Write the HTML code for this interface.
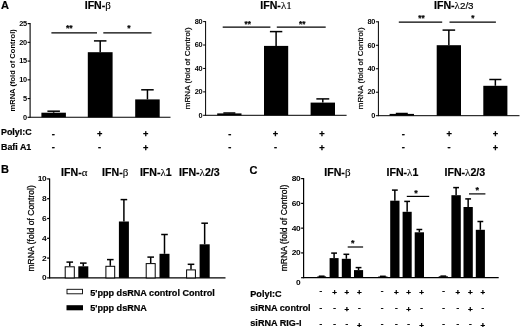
<!DOCTYPE html>
<html><head><meta charset="utf-8"><title>Figure</title>
<style>
html,body{margin:0;padding:0;background:#fff;}
body{width:520px;height:327px;overflow:hidden;}
svg{display:block;}
text{fill:#000;}
</style></head><body>
<svg width="520" height="327" viewBox="0 0 520 327">
<rect x="0" y="0" width="520" height="327" fill="#fff"/>
<text x="0.90" y="8.80" font-family='"Liberation Sans", sans-serif' font-size="11" font-weight="bold" text-anchor="start"  stroke="#000" stroke-width="0.2">A</text>
<text x="84.70" y="8.60" font-family='"Liberation Sans", sans-serif' font-size="10.6" font-weight="bold" text-anchor="start"  stroke="#000" stroke-width="0.2">IFN-<tspan font-family='"Liberation Serif", serif' font-weight="normal" stroke-width="0.12" font-size="11">β</tspan></text>
<line x1="30.10" y1="23.10" x2="30.10" y2="117.80" stroke="#000" stroke-width="1.1"/>
<line x1="27.60" y1="23.60" x2="30.10" y2="23.60" stroke="#000" stroke-width="1.1"/>
<text transform="translate(26.80,25.84) scale(1.12,1)" font-family='"Liberation Sans", sans-serif' font-size="6.6" font-weight="bold" text-anchor="end" letter-spacing="-0.3">25</text>
<line x1="27.60" y1="42.34" x2="30.10" y2="42.34" stroke="#000" stroke-width="1.1"/>
<text transform="translate(26.80,44.58) scale(1.12,1)" font-family='"Liberation Sans", sans-serif' font-size="6.6" font-weight="bold" text-anchor="end" letter-spacing="-0.3">20</text>
<line x1="27.60" y1="61.08" x2="30.10" y2="61.08" stroke="#000" stroke-width="1.1"/>
<text transform="translate(26.80,63.32) scale(1.12,1)" font-family='"Liberation Sans", sans-serif' font-size="6.6" font-weight="bold" text-anchor="end" letter-spacing="-0.3">15</text>
<line x1="27.60" y1="79.82" x2="30.10" y2="79.82" stroke="#000" stroke-width="1.1"/>
<text transform="translate(26.80,82.06) scale(1.12,1)" font-family='"Liberation Sans", sans-serif' font-size="6.6" font-weight="bold" text-anchor="end" letter-spacing="-0.3">10</text>
<line x1="27.60" y1="98.56" x2="30.10" y2="98.56" stroke="#000" stroke-width="1.1"/>
<text transform="translate(26.80,100.80) scale(1.12,1)" font-family='"Liberation Sans", sans-serif' font-size="6.6" font-weight="bold" text-anchor="end" letter-spacing="-0.3">5</text>
<line x1="27.60" y1="117.30" x2="30.10" y2="117.30" stroke="#000" stroke-width="1.1"/>
<text transform="translate(26.80,119.54) scale(1.12,1)" font-family='"Liberation Sans", sans-serif' font-size="6.6" font-weight="bold" text-anchor="end" letter-spacing="-0.3">0</text>
<text transform="translate(14.60,111.50) rotate(-90)" font-family='"Liberation Sans", sans-serif' font-size="7.5" font-weight="bold" textLength="82.3" lengthAdjust="spacing">mRNA (fold of Control)</text>
<line x1="30.10" y1="117.30" x2="170.50" y2="117.30" stroke="#000" stroke-width="1.1"/>
<rect x="41.40" y="112.70" width="24.50" height="4.60" fill="#000"/>
<line x1="53.65" y1="111.20" x2="53.65" y2="112.70" stroke="#000" stroke-width="1.5"/>
<line x1="47.40" y1="111.20" x2="59.90" y2="111.20" stroke="#000" stroke-width="1.5"/>
<rect x="87.80" y="52.20" width="24.80" height="65.10" fill="#000"/>
<line x1="100.20" y1="40.90" x2="100.20" y2="52.20" stroke="#000" stroke-width="1.5"/>
<line x1="93.95" y1="40.90" x2="106.45" y2="40.90" stroke="#000" stroke-width="1.5"/>
<rect x="135.20" y="99.40" width="24.50" height="17.90" fill="#000"/>
<line x1="147.45" y1="89.80" x2="147.45" y2="99.40" stroke="#000" stroke-width="1.5"/>
<line x1="141.20" y1="89.80" x2="153.70" y2="89.80" stroke="#000" stroke-width="1.5"/>
<line x1="51.40" y1="32.90" x2="97.00" y2="32.90" stroke="#000" stroke-width="1.2"/>
<line x1="103.30" y1="32.90" x2="151.50" y2="32.90" stroke="#000" stroke-width="1.2"/>
<text x="69.30" y="31.34" font-family='"Liberation Sans", sans-serif' font-size="8.6" font-weight="bold" text-anchor="middle"  stroke="#000" stroke-width="0.2">**</text>
<text x="128.90" y="31.34" font-family='"Liberation Sans", sans-serif' font-size="8.6" font-weight="bold" text-anchor="middle"  stroke="#000" stroke-width="0.2">*</text>
<text x="1.00" y="135.00" font-family='"Liberation Sans", sans-serif' font-size="8.9" font-weight="bold" text-anchor="start"  stroke="#000" stroke-width="0.2">PolyI:C</text>
<text x="1.00" y="150.20" font-family='"Liberation Sans", sans-serif' font-size="8.9" font-weight="bold" text-anchor="start"  stroke="#000" stroke-width="0.2">Bafi A1</text>
<text x="53.40" y="136.72" font-family='"Liberation Sans", sans-serif' font-size="9.2" font-weight="bold" text-anchor="middle" stroke="#000" stroke-width="0.3">-</text>
<text x="53.40" y="150.22" font-family='"Liberation Sans", sans-serif' font-size="9.2" font-weight="bold" text-anchor="middle" stroke="#000" stroke-width="0.3">-</text>
<text x="99.60" y="137.41" font-family='"Liberation Sans", sans-serif' font-size="9.2" font-weight="bold" text-anchor="middle" stroke="#000" stroke-width="0.3">+</text>
<text x="99.60" y="150.22" font-family='"Liberation Sans", sans-serif' font-size="9.2" font-weight="bold" text-anchor="middle" stroke="#000" stroke-width="0.3">-</text>
<text x="145.70" y="137.41" font-family='"Liberation Sans", sans-serif' font-size="9.2" font-weight="bold" text-anchor="middle" stroke="#000" stroke-width="0.3">+</text>
<text x="145.70" y="150.81" font-family='"Liberation Sans", sans-serif' font-size="9.2" font-weight="bold" text-anchor="middle" stroke="#000" stroke-width="0.3">+</text>
<text x="260.30" y="8.60" font-family='"Liberation Sans", sans-serif' font-size="10.6" font-weight="bold" text-anchor="start"  stroke="#000" stroke-width="0.2">IFN-<tspan font-family='"Liberation Serif", serif' font-weight="normal" stroke-width="0.12" font-size="11">λ1</tspan></text>
<line x1="205.60" y1="21.10" x2="205.60" y2="115.80" stroke="#000" stroke-width="1.0"/>
<line x1="203.10" y1="21.60" x2="205.60" y2="21.60" stroke="#000" stroke-width="1.0"/>
<text transform="translate(202.30,23.84) scale(1.12,1)" font-family='"Liberation Sans", sans-serif' font-size="6.6" font-weight="bold" text-anchor="end" letter-spacing="-0.3">80</text>
<line x1="203.10" y1="45.02" x2="205.60" y2="45.02" stroke="#000" stroke-width="1.0"/>
<text transform="translate(202.30,47.27) scale(1.12,1)" font-family='"Liberation Sans", sans-serif' font-size="6.6" font-weight="bold" text-anchor="end" letter-spacing="-0.3">60</text>
<line x1="203.10" y1="68.45" x2="205.60" y2="68.45" stroke="#000" stroke-width="1.0"/>
<text transform="translate(202.30,70.69) scale(1.12,1)" font-family='"Liberation Sans", sans-serif' font-size="6.6" font-weight="bold" text-anchor="end" letter-spacing="-0.3">40</text>
<line x1="203.10" y1="91.88" x2="205.60" y2="91.88" stroke="#000" stroke-width="1.0"/>
<text transform="translate(202.30,94.12) scale(1.12,1)" font-family='"Liberation Sans", sans-serif' font-size="6.6" font-weight="bold" text-anchor="end" letter-spacing="-0.3">20</text>
<line x1="203.10" y1="115.30" x2="205.60" y2="115.30" stroke="#000" stroke-width="1.0"/>
<text transform="translate(202.30,117.54) scale(1.12,1)" font-family='"Liberation Sans", sans-serif' font-size="6.6" font-weight="bold" text-anchor="end" letter-spacing="-0.3">0</text>
<text transform="translate(190.30,109.20) rotate(-90)" font-family='"Liberation Sans", sans-serif' font-size="8.0" font-weight="normal" textLength="81.8" lengthAdjust="spacing" stroke="#000" stroke-width="0.2">mRNA (fold of Control)</text>
<line x1="205.60" y1="115.30" x2="346.60" y2="115.30" stroke="#000" stroke-width="1.0"/>
<rect x="217.20" y="113.40" width="24.30" height="1.90" fill="#000"/>
<line x1="229.35" y1="113.00" x2="229.35" y2="113.40" stroke="#000" stroke-width="1.5"/>
<line x1="223.35" y1="113.00" x2="235.35" y2="113.00" stroke="#000" stroke-width="1.5"/>
<rect x="264.00" y="45.90" width="24.20" height="69.40" fill="#000"/>
<line x1="276.10" y1="31.60" x2="276.10" y2="45.90" stroke="#000" stroke-width="1.5"/>
<line x1="269.90" y1="31.60" x2="282.30" y2="31.60" stroke="#000" stroke-width="1.5"/>
<rect x="310.60" y="102.60" width="24.40" height="12.70" fill="#000"/>
<line x1="322.80" y1="98.90" x2="322.80" y2="102.60" stroke="#000" stroke-width="1.5"/>
<line x1="316.35" y1="98.90" x2="329.25" y2="98.90" stroke="#000" stroke-width="1.5"/>
<line x1="222.70" y1="27.10" x2="270.40" y2="27.10" stroke="#000" stroke-width="1.1"/>
<line x1="276.80" y1="27.10" x2="325.70" y2="27.10" stroke="#000" stroke-width="1.1"/>
<text x="247.80" y="26.68" font-family='"Liberation Sans", sans-serif' font-size="8.2" font-weight="bold" text-anchor="middle"  stroke="#000" stroke-width="0.2">**</text>
<text x="302.20" y="26.68" font-family='"Liberation Sans", sans-serif' font-size="8.2" font-weight="bold" text-anchor="middle"  stroke="#000" stroke-width="0.2">**</text>
<text x="229.70" y="136.72" font-family='"Liberation Sans", sans-serif' font-size="9.2" font-weight="bold" text-anchor="middle" stroke="#000" stroke-width="0.3">-</text>
<text x="229.70" y="150.22" font-family='"Liberation Sans", sans-serif' font-size="9.2" font-weight="bold" text-anchor="middle" stroke="#000" stroke-width="0.3">-</text>
<text x="275.50" y="137.41" font-family='"Liberation Sans", sans-serif' font-size="9.2" font-weight="bold" text-anchor="middle" stroke="#000" stroke-width="0.3">+</text>
<text x="275.50" y="150.22" font-family='"Liberation Sans", sans-serif' font-size="9.2" font-weight="bold" text-anchor="middle" stroke="#000" stroke-width="0.3">-</text>
<text x="322.00" y="137.41" font-family='"Liberation Sans", sans-serif' font-size="9.2" font-weight="bold" text-anchor="middle" stroke="#000" stroke-width="0.3">+</text>
<text x="322.00" y="150.81" font-family='"Liberation Sans", sans-serif' font-size="9.2" font-weight="bold" text-anchor="middle" stroke="#000" stroke-width="0.3">+</text>
<text x="434.00" y="8.60" font-family='"Liberation Sans", sans-serif' font-size="10.6" font-weight="bold" text-anchor="start"  stroke="#000" stroke-width="0.2">IFN-<tspan font-family='"Liberation Serif", serif' font-weight="normal" stroke-width="0.12" font-size="11">λ</tspan><tspan font-weight="normal" font-size="9.8">2/3</tspan></text>
<line x1="378.40" y1="21.30" x2="378.40" y2="116.20" stroke="#000" stroke-width="1.0"/>
<line x1="375.90" y1="21.80" x2="378.40" y2="21.80" stroke="#000" stroke-width="1.0"/>
<text transform="translate(375.10,24.04) scale(1.12,1)" font-family='"Liberation Sans", sans-serif' font-size="6.6" font-weight="bold" text-anchor="end" letter-spacing="-0.3">80</text>
<line x1="375.90" y1="45.28" x2="378.40" y2="45.28" stroke="#000" stroke-width="1.0"/>
<text transform="translate(375.10,47.52) scale(1.12,1)" font-family='"Liberation Sans", sans-serif' font-size="6.6" font-weight="bold" text-anchor="end" letter-spacing="-0.3">60</text>
<line x1="375.90" y1="68.75" x2="378.40" y2="68.75" stroke="#000" stroke-width="1.0"/>
<text transform="translate(375.10,70.99) scale(1.12,1)" font-family='"Liberation Sans", sans-serif' font-size="6.6" font-weight="bold" text-anchor="end" letter-spacing="-0.3">40</text>
<line x1="375.90" y1="92.23" x2="378.40" y2="92.23" stroke="#000" stroke-width="1.0"/>
<text transform="translate(375.10,94.47) scale(1.12,1)" font-family='"Liberation Sans", sans-serif' font-size="6.6" font-weight="bold" text-anchor="end" letter-spacing="-0.3">20</text>
<line x1="375.90" y1="115.70" x2="378.40" y2="115.70" stroke="#000" stroke-width="1.0"/>
<text transform="translate(375.10,117.94) scale(1.12,1)" font-family='"Liberation Sans", sans-serif' font-size="6.6" font-weight="bold" text-anchor="end" letter-spacing="-0.3">0</text>
<text transform="translate(362.70,109.20) rotate(-90)" font-family='"Liberation Sans", sans-serif' font-size="8.0" font-weight="normal" textLength="81.8" lengthAdjust="spacing" stroke="#000" stroke-width="0.2">mRNA (fold of Control)</text>
<line x1="378.40" y1="115.70" x2="519.50" y2="115.70" stroke="#000" stroke-width="1.0"/>
<rect x="389.60" y="113.90" width="24.40" height="1.80" fill="#000"/>
<line x1="401.80" y1="113.50" x2="401.80" y2="113.90" stroke="#000" stroke-width="1.5"/>
<line x1="395.80" y1="113.50" x2="407.80" y2="113.50" stroke="#000" stroke-width="1.5"/>
<rect x="436.70" y="45.20" width="24.30" height="70.50" fill="#000"/>
<line x1="448.85" y1="30.10" x2="448.85" y2="45.20" stroke="#000" stroke-width="1.5"/>
<line x1="442.55" y1="30.10" x2="455.15" y2="30.10" stroke="#000" stroke-width="1.5"/>
<rect x="483.30" y="85.80" width="24.10" height="29.90" fill="#000"/>
<line x1="495.35" y1="79.50" x2="495.35" y2="85.80" stroke="#000" stroke-width="1.5"/>
<line x1="489.30" y1="79.50" x2="501.40" y2="79.50" stroke="#000" stroke-width="1.5"/>
<line x1="398.80" y1="22.10" x2="442.20" y2="22.10" stroke="#000" stroke-width="1.2"/>
<line x1="449.50" y1="22.10" x2="495.90" y2="22.10" stroke="#000" stroke-width="1.2"/>
<text x="421.50" y="21.18" font-family='"Liberation Sans", sans-serif' font-size="8.2" font-weight="bold" text-anchor="middle"  stroke="#000" stroke-width="0.2">**</text>
<text x="472.80" y="21.18" font-family='"Liberation Sans", sans-serif' font-size="8.2" font-weight="bold" text-anchor="middle"  stroke="#000" stroke-width="0.2">*</text>
<text x="403.20" y="136.72" font-family='"Liberation Sans", sans-serif' font-size="9.2" font-weight="bold" text-anchor="middle" stroke="#000" stroke-width="0.3">-</text>
<text x="403.20" y="150.22" font-family='"Liberation Sans", sans-serif' font-size="9.2" font-weight="bold" text-anchor="middle" stroke="#000" stroke-width="0.3">-</text>
<text x="449.10" y="137.41" font-family='"Liberation Sans", sans-serif' font-size="9.2" font-weight="bold" text-anchor="middle" stroke="#000" stroke-width="0.3">+</text>
<text x="449.10" y="150.22" font-family='"Liberation Sans", sans-serif' font-size="9.2" font-weight="bold" text-anchor="middle" stroke="#000" stroke-width="0.3">-</text>
<text x="495.40" y="137.41" font-family='"Liberation Sans", sans-serif' font-size="9.2" font-weight="bold" text-anchor="middle" stroke="#000" stroke-width="0.3">+</text>
<text x="495.40" y="150.81" font-family='"Liberation Sans", sans-serif' font-size="9.2" font-weight="bold" text-anchor="middle" stroke="#000" stroke-width="0.3">+</text>
<text x="0.90" y="173.40" font-family='"Liberation Sans", sans-serif' font-size="11" font-weight="bold" text-anchor="start"  stroke="#000" stroke-width="0.2">B</text>
<line x1="49.60" y1="178.40" x2="49.60" y2="278.40" stroke="#000" stroke-width="1.2"/>
<line x1="47.10" y1="178.90" x2="49.60" y2="178.90" stroke="#000" stroke-width="1.2"/>
<text transform="translate(46.30,181.45) scale(1.12,1)" font-family='"Liberation Sans", sans-serif' font-size="7.5" font-weight="bold" text-anchor="end" letter-spacing="-0.3">10</text>
<line x1="47.10" y1="198.70" x2="49.60" y2="198.70" stroke="#000" stroke-width="1.2"/>
<text transform="translate(46.30,201.25) scale(1.12,1)" font-family='"Liberation Sans", sans-serif' font-size="7.5" font-weight="bold" text-anchor="end" letter-spacing="-0.3">8</text>
<line x1="47.10" y1="218.50" x2="49.60" y2="218.50" stroke="#000" stroke-width="1.2"/>
<text transform="translate(46.30,221.05) scale(1.12,1)" font-family='"Liberation Sans", sans-serif' font-size="7.5" font-weight="bold" text-anchor="end" letter-spacing="-0.3">6</text>
<line x1="47.10" y1="238.30" x2="49.60" y2="238.30" stroke="#000" stroke-width="1.2"/>
<text transform="translate(46.30,240.85) scale(1.12,1)" font-family='"Liberation Sans", sans-serif' font-size="7.5" font-weight="bold" text-anchor="end" letter-spacing="-0.3">4</text>
<line x1="47.10" y1="258.10" x2="49.60" y2="258.10" stroke="#000" stroke-width="1.2"/>
<text transform="translate(46.30,260.65) scale(1.12,1)" font-family='"Liberation Sans", sans-serif' font-size="7.5" font-weight="bold" text-anchor="end" letter-spacing="-0.3">2</text>
<line x1="47.10" y1="277.90" x2="49.60" y2="277.90" stroke="#000" stroke-width="1.2"/>
<text transform="translate(46.30,280.45) scale(1.12,1)" font-family='"Liberation Sans", sans-serif' font-size="7.5" font-weight="bold" text-anchor="end" letter-spacing="-0.3">0</text>
<text transform="translate(34.30,271.50) rotate(-90)" font-family='"Liberation Sans", sans-serif' font-size="8.5" font-weight="normal" textLength="86.4" lengthAdjust="spacing" stroke="#000" stroke-width="0.25">mRNA (fold of Control)</text>
<line x1="49.60" y1="277.90" x2="225.50" y2="277.90" stroke="#000" stroke-width="1.2"/>
<text x="61.10" y="175.50" font-family='"Liberation Sans", sans-serif' font-size="10.6" font-weight="bold" text-anchor="start"  stroke="#000" stroke-width="0.2">IFN-<tspan font-family='"Liberation Serif", serif' font-weight="normal" stroke-width="0.12" font-size="11">α</tspan></text>
<text x="102.10" y="175.50" font-family='"Liberation Sans", sans-serif' font-size="10.6" font-weight="bold" text-anchor="start"  stroke="#000" stroke-width="0.2">IFN-<tspan font-family='"Liberation Serif", serif' font-weight="normal" stroke-width="0.12" font-size="11">β</tspan></text>
<text x="139.90" y="175.50" font-family='"Liberation Sans", sans-serif' font-size="10.6" font-weight="bold" text-anchor="start"  stroke="#000" stroke-width="0.2">IFN-<tspan font-family='"Liberation Serif", serif' font-weight="normal" stroke-width="0.12" font-size="11">λ</tspan>1</text>
<text x="179.00" y="175.50" font-family='"Liberation Sans", sans-serif' font-size="10.6" font-weight="bold" text-anchor="start"  stroke="#000" stroke-width="0.2">IFN-<tspan font-family='"Liberation Serif", serif' font-weight="normal" stroke-width="0.12" font-size="11">λ</tspan>2/3</text>
<line x1="69.75" y1="262.10" x2="69.75" y2="266.30" stroke="#000" stroke-width="1.5"/>
<line x1="66.45" y1="262.10" x2="73.05" y2="262.10" stroke="#000" stroke-width="1.5"/>
<rect x="65.20" y="266.80" width="9.10" height="11.10" fill="#fff" stroke="#000" stroke-width="1.0"/>
<line x1="83.30" y1="263.10" x2="83.30" y2="266.30" stroke="#000" stroke-width="1.5"/>
<line x1="80.00" y1="263.10" x2="86.60" y2="263.10" stroke="#000" stroke-width="1.5"/>
<rect x="78.30" y="266.30" width="10.00" height="11.60" fill="#000"/>
<line x1="110.30" y1="259.60" x2="110.30" y2="265.80" stroke="#000" stroke-width="1.5"/>
<line x1="107.00" y1="259.60" x2="113.60" y2="259.60" stroke="#000" stroke-width="1.5"/>
<rect x="105.90" y="266.30" width="8.80" height="11.60" fill="#fff" stroke="#000" stroke-width="1.0"/>
<line x1="123.90" y1="199.60" x2="123.90" y2="221.50" stroke="#000" stroke-width="1.5"/>
<line x1="120.60" y1="199.60" x2="127.20" y2="199.60" stroke="#000" stroke-width="1.5"/>
<rect x="118.90" y="221.50" width="10.00" height="56.40" fill="#000"/>
<line x1="150.70" y1="257.10" x2="150.70" y2="263.10" stroke="#000" stroke-width="1.5"/>
<line x1="147.40" y1="257.10" x2="154.00" y2="257.10" stroke="#000" stroke-width="1.5"/>
<rect x="146.20" y="263.60" width="9.00" height="14.30" fill="#fff" stroke="#000" stroke-width="1.0"/>
<line x1="164.50" y1="234.50" x2="164.50" y2="253.80" stroke="#000" stroke-width="1.5"/>
<line x1="161.20" y1="234.50" x2="167.80" y2="234.50" stroke="#000" stroke-width="1.5"/>
<rect x="159.50" y="253.80" width="10.00" height="24.10" fill="#000"/>
<line x1="191.00" y1="264.30" x2="191.00" y2="269.40" stroke="#000" stroke-width="1.5"/>
<line x1="187.70" y1="264.30" x2="194.30" y2="264.30" stroke="#000" stroke-width="1.5"/>
<rect x="186.60" y="269.90" width="8.80" height="8.00" fill="#fff" stroke="#000" stroke-width="1.0"/>
<line x1="204.65" y1="223.20" x2="204.65" y2="244.30" stroke="#000" stroke-width="1.5"/>
<line x1="201.35" y1="223.20" x2="207.95" y2="223.20" stroke="#000" stroke-width="1.5"/>
<rect x="199.60" y="244.30" width="10.10" height="33.60" fill="#000"/>
<rect x="67.00" y="289.30" width="15.50" height="4.50" fill="#fff" stroke="#000" stroke-width="0.9"/>
<rect x="66.50" y="305.20" width="16.50" height="5.10" fill="#000"/>
<text x="90.20" y="296.20" font-family='"Liberation Sans", sans-serif' font-size="9.1" font-weight="bold" text-anchor="start"  stroke="#000" stroke-width="0.2">5'ppp dsRNA control Control</text>
<text x="90.20" y="310.90" font-family='"Liberation Sans", sans-serif' font-size="9.1" font-weight="bold" text-anchor="start"  stroke="#000" stroke-width="0.2">5'ppp dsRNA</text>
<text x="249.60" y="173.90" font-family='"Liberation Sans", sans-serif' font-size="11" font-weight="bold" text-anchor="start"  stroke="#000" stroke-width="0.2">C</text>
<line x1="303.60" y1="178.10" x2="303.60" y2="278.20" stroke="#000" stroke-width="1.2"/>
<line x1="301.10" y1="178.60" x2="303.60" y2="178.60" stroke="#000" stroke-width="1.2"/>
<text transform="translate(300.30,181.15) scale(1.12,1)" font-family='"Liberation Sans", sans-serif' font-size="7.5" font-weight="bold" text-anchor="end" letter-spacing="-0.3">80</text>
<line x1="301.10" y1="203.38" x2="303.60" y2="203.38" stroke="#000" stroke-width="1.2"/>
<text transform="translate(300.30,205.93) scale(1.12,1)" font-family='"Liberation Sans", sans-serif' font-size="7.5" font-weight="bold" text-anchor="end" letter-spacing="-0.3">60</text>
<line x1="301.10" y1="228.15" x2="303.60" y2="228.15" stroke="#000" stroke-width="1.2"/>
<text transform="translate(300.30,230.70) scale(1.12,1)" font-family='"Liberation Sans", sans-serif' font-size="7.5" font-weight="bold" text-anchor="end" letter-spacing="-0.3">40</text>
<line x1="301.10" y1="252.92" x2="303.60" y2="252.92" stroke="#000" stroke-width="1.2"/>
<text transform="translate(300.30,255.47) scale(1.12,1)" font-family='"Liberation Sans", sans-serif' font-size="7.5" font-weight="bold" text-anchor="end" letter-spacing="-0.3">20</text>
<line x1="301.10" y1="277.70" x2="303.60" y2="277.70" stroke="#000" stroke-width="1.2"/>
<text transform="translate(300.30,284.75) scale(1.12,1)" font-family='"Liberation Sans", sans-serif' font-size="7.5" font-weight="bold" text-anchor="end" letter-spacing="-0.3">0</text>
<text transform="translate(287.00,271.35) rotate(-90)" font-family='"Liberation Sans", sans-serif' font-size="8.5" font-weight="normal" textLength="86.7" lengthAdjust="spacing" stroke="#000" stroke-width="0.25">mRNA (fold of Control)</text>
<line x1="303.60" y1="277.70" x2="498.70" y2="277.70" stroke="#000" stroke-width="1.2"/>
<text x="324.30" y="175.60" font-family='"Liberation Sans", sans-serif' font-size="10.6" font-weight="bold" text-anchor="start"  stroke="#000" stroke-width="0.2">IFN-<tspan font-family='"Liberation Serif", serif' font-weight="normal" stroke-width="0.12" font-size="11">β</tspan></text>
<text x="386.50" y="175.60" font-family='"Liberation Sans", sans-serif' font-size="10.6" font-weight="bold" text-anchor="start"  stroke="#000" stroke-width="0.2">IFN-<tspan font-family='"Liberation Serif", serif' font-weight="normal" stroke-width="0.12" font-size="11">λ</tspan>1</text>
<text x="444.50" y="175.60" font-family='"Liberation Sans", sans-serif' font-size="10.6" font-weight="bold" text-anchor="start"  stroke="#000" stroke-width="0.2">IFN-<tspan font-family='"Liberation Serif", serif' font-weight="normal" stroke-width="0.12" font-size="11">λ</tspan>2/3</text>
<line x1="321.70" y1="276.20" x2="321.70" y2="276.40" stroke="#000" stroke-width="1.5"/>
<line x1="318.80" y1="276.20" x2="324.60" y2="276.20" stroke="#000" stroke-width="1.5"/>
<rect x="317.30" y="276.40" width="8.80" height="1.30" fill="#000"/>
<line x1="334.10" y1="253.10" x2="334.10" y2="258.10" stroke="#000" stroke-width="1.5"/>
<line x1="331.20" y1="253.10" x2="337.00" y2="253.10" stroke="#000" stroke-width="1.5"/>
<rect x="329.60" y="258.10" width="9.00" height="19.60" fill="#000"/>
<line x1="346.35" y1="254.30" x2="346.35" y2="258.80" stroke="#000" stroke-width="1.5"/>
<line x1="343.45" y1="254.30" x2="349.25" y2="254.30" stroke="#000" stroke-width="1.5"/>
<rect x="341.80" y="258.80" width="9.10" height="18.90" fill="#000"/>
<line x1="358.55" y1="267.60" x2="358.55" y2="270.10" stroke="#000" stroke-width="1.5"/>
<line x1="355.65" y1="267.60" x2="361.45" y2="267.60" stroke="#000" stroke-width="1.5"/>
<rect x="354.00" y="270.10" width="9.10" height="7.60" fill="#000"/>
<line x1="382.85" y1="276.30" x2="382.85" y2="276.50" stroke="#000" stroke-width="1.5"/>
<line x1="379.95" y1="276.30" x2="385.75" y2="276.30" stroke="#000" stroke-width="1.5"/>
<rect x="378.20" y="276.50" width="9.30" height="1.20" fill="#000"/>
<line x1="394.85" y1="190.10" x2="394.85" y2="200.70" stroke="#000" stroke-width="1.5"/>
<line x1="391.95" y1="190.10" x2="397.75" y2="190.10" stroke="#000" stroke-width="1.5"/>
<rect x="390.20" y="200.70" width="9.30" height="77.00" fill="#000"/>
<line x1="407.15" y1="201.40" x2="407.15" y2="211.80" stroke="#000" stroke-width="1.5"/>
<line x1="404.25" y1="201.40" x2="410.05" y2="201.40" stroke="#000" stroke-width="1.5"/>
<rect x="402.60" y="211.80" width="9.10" height="65.90" fill="#000"/>
<line x1="419.35" y1="229.50" x2="419.35" y2="232.30" stroke="#000" stroke-width="1.5"/>
<line x1="416.45" y1="229.50" x2="422.25" y2="229.50" stroke="#000" stroke-width="1.5"/>
<rect x="414.70" y="232.30" width="9.30" height="45.40" fill="#000"/>
<line x1="443.30" y1="276.10" x2="443.30" y2="276.30" stroke="#000" stroke-width="1.5"/>
<line x1="440.40" y1="276.10" x2="446.20" y2="276.10" stroke="#000" stroke-width="1.5"/>
<rect x="438.70" y="276.30" width="9.20" height="1.40" fill="#000"/>
<line x1="456.10" y1="187.60" x2="456.10" y2="195.20" stroke="#000" stroke-width="1.5"/>
<line x1="453.20" y1="187.60" x2="459.00" y2="187.60" stroke="#000" stroke-width="1.5"/>
<rect x="451.40" y="195.20" width="9.40" height="82.50" fill="#000"/>
<line x1="468.15" y1="198.90" x2="468.15" y2="207.00" stroke="#000" stroke-width="1.5"/>
<line x1="465.25" y1="198.90" x2="471.05" y2="198.90" stroke="#000" stroke-width="1.5"/>
<rect x="463.50" y="207.00" width="9.30" height="70.70" fill="#000"/>
<line x1="480.35" y1="221.50" x2="480.35" y2="229.80" stroke="#000" stroke-width="1.5"/>
<line x1="477.45" y1="221.50" x2="483.25" y2="221.50" stroke="#000" stroke-width="1.5"/>
<rect x="475.80" y="229.80" width="9.10" height="47.90" fill="#000"/>
<line x1="347.70" y1="247.00" x2="363.10" y2="247.00" stroke="#000" stroke-width="1.2"/>
<text x="352.80" y="246.30" font-family='"Liberation Sans", sans-serif' font-size="9" font-weight="bold" text-anchor="middle"  stroke="#000" stroke-width="0.2">*</text>
<line x1="406.80" y1="196.40" x2="429.20" y2="196.40" stroke="#000" stroke-width="1.2"/>
<text x="416.10" y="195.80" font-family='"Liberation Sans", sans-serif' font-size="9" font-weight="bold" text-anchor="middle"  stroke="#000" stroke-width="0.2">*</text>
<line x1="469.00" y1="193.90" x2="485.40" y2="193.90" stroke="#000" stroke-width="1.2"/>
<text x="477.30" y="193.20" font-family='"Liberation Sans", sans-serif' font-size="9" font-weight="bold" text-anchor="middle"  stroke="#000" stroke-width="0.2">*</text>
<text x="250.30" y="296.70" font-family='"Liberation Sans", sans-serif' font-size="9.1" font-weight="bold" text-anchor="start"  stroke="#000" stroke-width="0.2">PolyI:C</text>
<text x="250.30" y="311.20" font-family='"Liberation Sans", sans-serif' font-size="9.1" font-weight="bold" text-anchor="start"  stroke="#000" stroke-width="0.2">siRNA control</text>
<text x="250.30" y="325.50" font-family='"Liberation Sans", sans-serif' font-size="9.1" font-weight="bold" text-anchor="start"  stroke="#000" stroke-width="0.2">siRNA RIG-I</text>
<text x="320.80" y="293.30" font-family='"Liberation Sans", sans-serif' font-size="8.0" font-weight="bold" text-anchor="middle" stroke="#000" stroke-width="0.3">-</text>
<text x="320.80" y="310.30" font-family='"Liberation Sans", sans-serif' font-size="8.0" font-weight="bold" text-anchor="middle" stroke="#000" stroke-width="0.3">-</text>
<text x="320.80" y="326.10" font-family='"Liberation Sans", sans-serif' font-size="8.0" font-weight="bold" text-anchor="middle" stroke="#000" stroke-width="0.3">-</text>
<text x="334.70" y="294.70" font-family='"Liberation Sans", sans-serif' font-size="8.0" font-weight="bold" text-anchor="middle" stroke="#000" stroke-width="0.3">+</text>
<text x="334.70" y="310.30" font-family='"Liberation Sans", sans-serif' font-size="8.0" font-weight="bold" text-anchor="middle" stroke="#000" stroke-width="0.3">-</text>
<text x="334.70" y="326.10" font-family='"Liberation Sans", sans-serif' font-size="8.0" font-weight="bold" text-anchor="middle" stroke="#000" stroke-width="0.3">-</text>
<text x="346.80" y="294.70" font-family='"Liberation Sans", sans-serif' font-size="8.0" font-weight="bold" text-anchor="middle" stroke="#000" stroke-width="0.3">+</text>
<text x="346.80" y="311.70" font-family='"Liberation Sans", sans-serif' font-size="8.0" font-weight="bold" text-anchor="middle" stroke="#000" stroke-width="0.3">+</text>
<text x="346.80" y="326.10" font-family='"Liberation Sans", sans-serif' font-size="8.0" font-weight="bold" text-anchor="middle" stroke="#000" stroke-width="0.3">-</text>
<text x="359.40" y="294.70" font-family='"Liberation Sans", sans-serif' font-size="8.0" font-weight="bold" text-anchor="middle" stroke="#000" stroke-width="0.3">+</text>
<text x="359.40" y="310.30" font-family='"Liberation Sans", sans-serif' font-size="8.0" font-weight="bold" text-anchor="middle" stroke="#000" stroke-width="0.3">-</text>
<text x="359.40" y="327.50" font-family='"Liberation Sans", sans-serif' font-size="8.0" font-weight="bold" text-anchor="middle" stroke="#000" stroke-width="0.3">+</text>
<text x="382.20" y="293.30" font-family='"Liberation Sans", sans-serif' font-size="8.0" font-weight="bold" text-anchor="middle" stroke="#000" stroke-width="0.3">-</text>
<text x="382.20" y="310.30" font-family='"Liberation Sans", sans-serif' font-size="8.0" font-weight="bold" text-anchor="middle" stroke="#000" stroke-width="0.3">-</text>
<text x="382.20" y="326.10" font-family='"Liberation Sans", sans-serif' font-size="8.0" font-weight="bold" text-anchor="middle" stroke="#000" stroke-width="0.3">-</text>
<text x="396.40" y="294.70" font-family='"Liberation Sans", sans-serif' font-size="8.0" font-weight="bold" text-anchor="middle" stroke="#000" stroke-width="0.3">+</text>
<text x="396.40" y="310.30" font-family='"Liberation Sans", sans-serif' font-size="8.0" font-weight="bold" text-anchor="middle" stroke="#000" stroke-width="0.3">-</text>
<text x="396.40" y="326.10" font-family='"Liberation Sans", sans-serif' font-size="8.0" font-weight="bold" text-anchor="middle" stroke="#000" stroke-width="0.3">-</text>
<text x="408.70" y="294.70" font-family='"Liberation Sans", sans-serif' font-size="8.0" font-weight="bold" text-anchor="middle" stroke="#000" stroke-width="0.3">+</text>
<text x="408.70" y="311.70" font-family='"Liberation Sans", sans-serif' font-size="8.0" font-weight="bold" text-anchor="middle" stroke="#000" stroke-width="0.3">+</text>
<text x="408.70" y="326.10" font-family='"Liberation Sans", sans-serif' font-size="8.0" font-weight="bold" text-anchor="middle" stroke="#000" stroke-width="0.3">-</text>
<text x="421.50" y="294.70" font-family='"Liberation Sans", sans-serif' font-size="8.0" font-weight="bold" text-anchor="middle" stroke="#000" stroke-width="0.3">+</text>
<text x="421.50" y="310.30" font-family='"Liberation Sans", sans-serif' font-size="8.0" font-weight="bold" text-anchor="middle" stroke="#000" stroke-width="0.3">-</text>
<text x="421.50" y="327.50" font-family='"Liberation Sans", sans-serif' font-size="8.0" font-weight="bold" text-anchor="middle" stroke="#000" stroke-width="0.3">+</text>
<text x="443.50" y="293.30" font-family='"Liberation Sans", sans-serif' font-size="8.0" font-weight="bold" text-anchor="middle" stroke="#000" stroke-width="0.3">-</text>
<text x="443.50" y="310.30" font-family='"Liberation Sans", sans-serif' font-size="8.0" font-weight="bold" text-anchor="middle" stroke="#000" stroke-width="0.3">-</text>
<text x="443.50" y="326.10" font-family='"Liberation Sans", sans-serif' font-size="8.0" font-weight="bold" text-anchor="middle" stroke="#000" stroke-width="0.3">-</text>
<text x="457.80" y="294.70" font-family='"Liberation Sans", sans-serif' font-size="8.0" font-weight="bold" text-anchor="middle" stroke="#000" stroke-width="0.3">+</text>
<text x="457.80" y="310.30" font-family='"Liberation Sans", sans-serif' font-size="8.0" font-weight="bold" text-anchor="middle" stroke="#000" stroke-width="0.3">-</text>
<text x="457.80" y="326.10" font-family='"Liberation Sans", sans-serif' font-size="8.0" font-weight="bold" text-anchor="middle" stroke="#000" stroke-width="0.3">-</text>
<text x="470.30" y="294.70" font-family='"Liberation Sans", sans-serif' font-size="8.0" font-weight="bold" text-anchor="middle" stroke="#000" stroke-width="0.3">+</text>
<text x="470.30" y="311.70" font-family='"Liberation Sans", sans-serif' font-size="8.0" font-weight="bold" text-anchor="middle" stroke="#000" stroke-width="0.3">+</text>
<text x="470.30" y="326.10" font-family='"Liberation Sans", sans-serif' font-size="8.0" font-weight="bold" text-anchor="middle" stroke="#000" stroke-width="0.3">-</text>
<text x="482.80" y="294.70" font-family='"Liberation Sans", sans-serif' font-size="8.0" font-weight="bold" text-anchor="middle" stroke="#000" stroke-width="0.3">+</text>
<text x="482.80" y="310.30" font-family='"Liberation Sans", sans-serif' font-size="8.0" font-weight="bold" text-anchor="middle" stroke="#000" stroke-width="0.3">-</text>
<text x="482.80" y="327.50" font-family='"Liberation Sans", sans-serif' font-size="8.0" font-weight="bold" text-anchor="middle" stroke="#000" stroke-width="0.3">+</text>
</svg>
</body></html>
